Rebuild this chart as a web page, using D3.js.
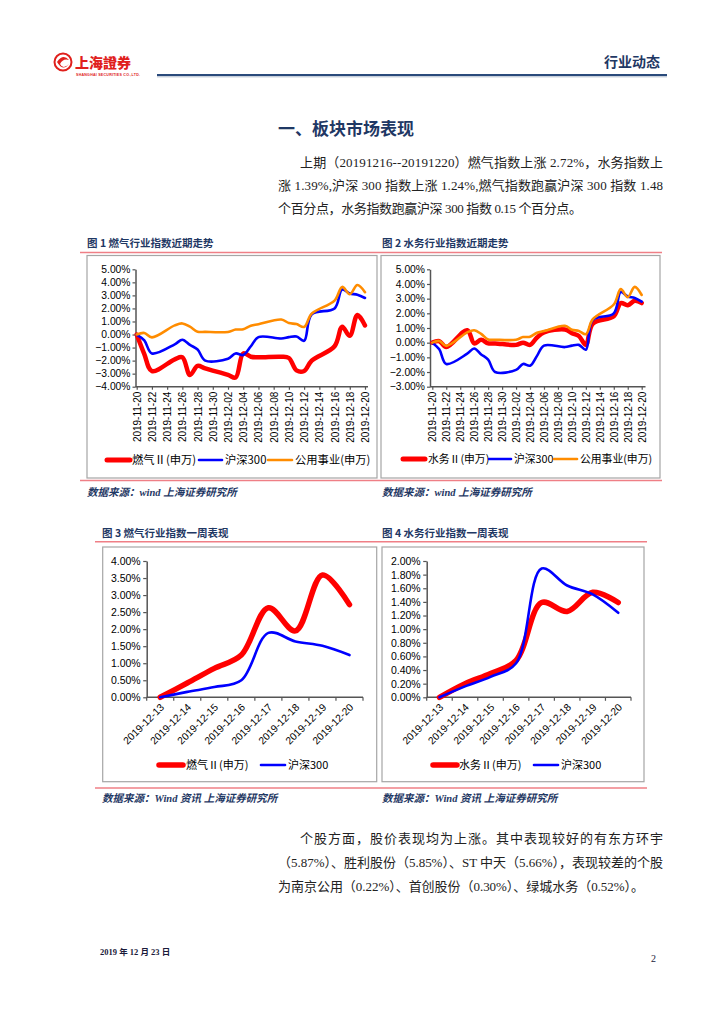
<!DOCTYPE html>
<html><head><meta charset="utf-8">
<script src="https://cdn.jsdelivr.net/npm/d3@7"></script>
<style>body{margin:0;background:#fff}svg{display:block}</style>
</head><body>
<svg id="page" width="724" height="1024"></svg>
<script>
// ---------- DATA ----------
const datesMonth = ["2019-11-20","2019-11-21","2019-11-22","2019-11-25","2019-11-26","2019-11-27","2019-11-28","2019-11-29","2019-12-02","2019-12-03","2019-12-04","2019-12-05","2019-12-06","2019-12-09","2019-12-10","2019-12-11","2019-12-12","2019-12-13","2019-12-16","2019-12-17","2019-12-18","2019-12-19","2019-12-20"];
const gasMonth   = [0,-1.5,-2.8,-1.9,-1.75,-3.1,-2.4,-2.6,-3.1,-3.3,-1.45,-1.7,-1.75,-1.7,-1.8,-2.75,-2.8,-2.0,-0.9,0.6,-0.1,1.5,0.7];
const waterMonth = [0,0.1,-0.3,0.85,-0.05,0.2,-0.05,-0.05,-0.15,0.0,-0.15,0.35,0.7,0.9,0.65,0.45,-0.15,1.3,1.8,2.7,2.55,2.85,2.7];
const hs300Month = [0,-0.45,-1.45,-0.75,-0.4,-0.8,-1.15,-2.0,-1.85,-1.45,-1.57,-0.9,-0.2,-0.3,-0.2,-0.15,-0.48,1.55,2.0,3.45,3.15,3.05,2.8];
const utilMonth  = [0,0.12,-0.22,0.7,0.85,0.6,0.22,0.2,0.2,0.38,0.4,0.68,0.79,1.15,0.88,0.8,0.58,1.6,2.6,3.65,3.1,3.8,3.25];
const ticksMonthY1 = [-4,-3,-2,-1,0,1,2,3,4,5];
const ticksMonthY2 = [-3,-2,-1,0,1,2,3,4,5];

const datesWeek = ["2019-12-13","2019-12-14","2019-12-15","2019-12-16","2019-12-17","2019-12-18","2019-12-19","2019-12-20"];
const gasWeek   = [0,0.42,0.85,1.24,2.63,1.95,3.59,2.72];
const waterWeek = [0,0.2,0.35,0.54,1.39,1.26,1.54,1.39];
const hs300Week = [0,0.16,0.3,0.5,1.89,1.64,1.51,1.24];
const ticksWeekY3 = [0,0.5,1,1.5,2,2.5,3,3.5,4];
const ticksWeekY4 = [0,0.2,0.4,0.6,0.8,1.0,1.2,1.4,1.6,1.8,2.0];

const nameGas = "燃气Ⅱ(申万)", nameWater = "水务Ⅱ(申万)", nameHS = "沪深300", nameUtil = "公用事业(申万)";

// ---------- STYLE ----------
const NAVY = "#1f3864", RED = "#ff0000", BLUE = "#0000ff", ORANGE = "#ff8c00";
const SANS = "'Liberation Sans', Arial, 'Noto Sans CJK SC', sans-serif";
const CJK = "'Noto Sans CJK SC', sans-serif";
const SERIF = "'Liberation Serif', 'Noto Sans CJK SC', serif";
const PINK = "#ef7f86";

const svg = d3.select("#page");
svg.append("rect").attr("width",724).attr("height",1024).attr("fill","#fff");

// ---------- HEADER ----------
const logo = svg.append("g");
logo.append("circle").attr("cx",63).attr("cy",62).attr("r",8.5).attr("fill","none").attr("stroke","#e0201c").attr("stroke-width",2);
logo.append("path").attr("d","M57,62 Q63,53 69,60 Q63,58 60,64 Q63,70 69,64 Q63,72 57,62Z").attr("fill","#e0201c");
logo.append("text").attr("x",75).attr("y",68).attr("font-family","'Noto Sans CJK TC',sans-serif").attr("font-weight",900)
  .attr("font-size",14).attr("fill","#e0201c").text("上海證券");
logo.append("text").attr("x",76).attr("y",75.5).attr("font-family",SANS).attr("font-weight",700)
  .attr("font-size",3.6).attr("fill","#e0201c").attr("textLength",64).text("SHANGHAI SECURITIES CO.,LTD.");
svg.append("text").attr("x",660).attr("y",67).attr("text-anchor","end").attr("font-family",CJK).attr("font-weight",700)
  .attr("font-size",14).attr("fill",NAVY).text("行业动态");
svg.append("line").attr("x1",157).attr("x2",667).attr("y1",75).attr("y2",75).attr("stroke","#2a4a7b").attr("stroke-width",2.2);
svg.append("line").attr("x1",157).attr("x2",667).attr("y1",76.8).attr("y2",76.8).attr("stroke","#9aa9bf").attr("stroke-width",0.8);

// ---------- TITLE & PARAGRAPH ----------
svg.append("text").attr("x",278).attr("y",135).attr("font-family",CJK).attr("font-weight",700)
  .attr("font-size",17).attr("fill",NAVY).text("一、板块市场表现");

function para(lines){
  lines.forEach(l=>{
    const t = svg.append("text").attr("x",l.x).attr("y",l.y).attr("font-family",SERIF)
      .attr("font-size",13).attr("fill","#222").text(l.t);
    if(l.w) t.attr("textLength",l.w).attr("lengthAdjust","spacing");
  });
}
para([
  {x:300,y:167,t:"上期（20191216--20191220）燃气指数上涨 2.72%，水务指数上",w:363},
  {x:278,y:190,t:"涨 1.39%,沪深 300 指数上涨 1.24%,燃气指数跑赢沪深 300 指数 1.48",w:385},
  {x:278,y:213,t:"个百分点，水务指数跑赢沪深 300 指数 0.15 个百分点。",w:304}
]);

// ---------- FRAMES ----------
function figTitle(x,y,t){
  svg.append("text").attr("x",x).attr("y",y).attr("font-family",CJK).attr("font-weight",700)
    .attr("font-size",10.5).attr("fill",NAVY).text(t);
}
function source(x,y,t){
  svg.append("text").attr("x",x).attr("y",y).attr("font-family","'Liberation Serif','Noto Sans CJK SC',serif").attr("font-weight",700)
    .attr("font-style","italic").attr("font-size",10.5).attr("fill",NAVY).text(t);
}
function hline(x1,x2,y,c,w){ svg.append("line").attr("x1",x1).attr("x2",x2).attr("y1",y).attr("y2",y).attr("stroke",c).attr("stroke-width",w); }
function box(x,y,w,h){ svg.append("rect").attr("x",x).attr("y",y).attr("width",w).attr("height",h).attr("fill","none").attr("stroke","#a6a6a6").attr("stroke-width",1.2); }

figTitle(87,247,"图 1 燃气行业指数近期走势");
figTitle(382,247,"图 2 水务行业指数近期走势");
hline(80,377,252.5,PINK,1.5); hline(377,662,252.5,PINK,1.5);
box(87,255.5,290,222.5); box(381,255.5,279,222.5);
hline(80,377,480.5,PINK,1.5); hline(377,662,480.5,PINK,1.5);
source(87,496,"数据来源：wind 上海证券研究所");
source(382,496,"数据来源：wind 上海证券研究所");

figTitle(102,537,"图  3  燃气行业指数一周表现");
figTitle(382,537,"图  4  水务行业指数一周表现");
hline(95,377,541.7,PINK,1.5); hline(377,647,541.7,PINK,1.5);
box(102.7,547,274,234.7); box(382,547,262,234.7);
hline(95,377,788,PINK,1.5); hline(377,647,788,PINK,1.5);
source(102,802,"数据来源：Wind 资讯  上海证券研究所");
source(382,802,"数据来源：Wind 资讯  上海证券研究所");

// ---------- CHART HELPERS ----------
const parse = d3.timeParse("%Y-%m-%d");
const fmtPct = d3.format(".2f");
function styleAxis(g){
  g.selectAll("path.domain").attr("stroke","#555").attr("stroke-width",1.5);
  g.selectAll(".tick line").attr("stroke","#555").attr("stroke-width",1.2);
  g.selectAll("text").attr("fill","#000").attr("font-family",SANS).attr("font-size",10);
}
function legend(items,y,fs){
  items.forEach(it=>{
    svg.append("line").attr("x1",it.lx1).attr("x2",it.lx2).attr("y1",y).attr("y2",y)
      .attr("stroke",it.c).attr("stroke-width",it.w).attr("stroke-linecap","round");
    svg.append("text").attr("x",it.tx).attr("y",y+4).attr("font-family",CJK).attr("font-size",fs).attr("fill","#000").text(it.t);
  });
}

function monthChart(cfg){
  const x = d3.scaleTime().domain([parse("2019-11-20"),parse("2019-12-20")]).range([cfg.x0,cfg.x1]);
  const y = d3.scaleLinear().domain(cfg.dom).range([cfg.yb,cfg.yt]);
  const ticksX = d3.timeDay.range(parse("2019-11-20"), d3.timeDay.offset(parse("2019-12-20"),1), 2);
  const gx = svg.append("g").attr("transform",`translate(0,${cfg.yb})`)
    .call(d3.axisBottom(x).tickValues(ticksX).tickFormat(d3.timeFormat("%Y-%m-%d")).tickSize(3).tickSizeOuter(0));
  gx.select("path.domain").attr("d",`M${cfg.ax},0H${cfg.axr}`);
  styleAxis(gx);
  gx.selectAll("text").attr("transform","rotate(-90)").attr("x",-5).attr("y",0).attr("dy","0.35em").attr("text-anchor","end");
  const gy = svg.append("g").attr("transform",`translate(${cfg.ax},0)`)
    .call(d3.axisLeft(y).tickValues(cfg.ticks).tickFormat(d=>fmtPct(d)+"%").tickSize(3).tickSizeOuter(0));
  styleAxis(gy);
  gy.selectAll("text").attr("x",-5).attr("font-size",10.3);
  const line = d3.line().x(d=>x(d.d)).y(d=>y(d.v)).curve(d3.curveCatmullRom.alpha(0.5));
  cfg.series.forEach(s=>{
    const data = datesMonth.map((d,i)=>({d:parse(d),v:s.v[i]}));
    svg.append("path").datum(data).attr("d",line).attr("fill","none").attr("stroke",s.c)
      .attr("stroke-width",s.w).attr("stroke-linejoin","round").attr("stroke-linecap","round");
  });
}

monthChart({x0:136.7,x1:365,ax:135.5,axr:368,yt:269.3,yb:386.7,dom:[-4,5],ticks:ticksMonthY1,
  series:[{v:gasMonth,c:RED,w:4.5},{v:hs300Month,c:BLUE,w:2.6},{v:utilMonth,c:ORANGE,w:2.6}]});
legend([{lx1:107,lx2:130,c:RED,w:5,tx:132,t:nameGas},{lx1:199,lx2:222,c:BLUE,w:2.6,tx:225,t:nameHS},{lx1:268,lx2:292,c:ORANGE,w:2.6,tx:295,t:nameUtil}],460,11.3);

monthChart({x0:432.3,x1:641.7,ax:430,axr:645.5,yt:269.3,yb:386.7,dom:[-3,5],ticks:ticksMonthY2,
  series:[{v:waterMonth,c:RED,w:4.5},{v:hs300Month,c:BLUE,w:2.6},{v:utilMonth,c:ORANGE,w:2.6}]});
legend([{lx1:403,lx2:425,c:RED,w:5,tx:428,t:nameWater},{lx1:489,lx2:511,c:BLUE,w:2.6,tx:514,t:nameHS},{lx1:554,lx2:577,c:ORANGE,w:2.6,tx:580,t:nameUtil}],459,10.8);

function weekChart(cfg){
  const x = d3.scaleBand().domain(datesWeek).range([cfg.x0,cfg.x1]);
  const y = d3.scaleLinear().domain(cfg.dom).range([cfg.yb,cfg.yt]);
  const gx = svg.append("g").attr("transform",`translate(0,${cfg.yb})`)
    .call(d3.axisBottom(x).tickSize(0).tickSizeOuter(0));
  styleAxis(gx);
  gx.select("path.domain").attr("d",`M${cfg.x0},0H${cfg.x1}`);
  gx.selectAll("text").attr("transform",`translate(2,8) rotate(-45)`).attr("x",0).attr("y",0).attr("dy","0.35em").attr("text-anchor","end").attr("font-size",10.3);
  const bounds = datesWeek.map(d=>x(d)).concat([cfg.x1]);
  gx.selectAll("line.bt").data(bounds).enter().append("line").attr("class","bt")
    .attr("x1",d=>d).attr("x2",d=>d).attr("y1",0).attr("y2",3.5).attr("stroke","#555").attr("stroke-width",1.2);
  const gy = svg.append("g").attr("transform",`translate(${cfg.x0},0)`)
    .call(d3.axisLeft(y).tickValues(cfg.ticks).tickFormat(d=>fmtPct(d)+"%").tickSize(3.5).tickSizeOuter(0));
  styleAxis(gy);
  gy.selectAll("text").attr("x",-6).attr("font-size",10.5);
  const line = d3.line().x(d=>x(d.d)+x.bandwidth()/2).y(d=>y(d.v)).curve(d3.curveCatmullRom.alpha(0.5));
  cfg.series.forEach(s=>{
    const data = datesWeek.map((d,i)=>({d:d,v:s.v[i]}));
    svg.append("path").datum(data).attr("d",line).attr("fill","none").attr("stroke",s.c)
      .attr("stroke-width",s.w).attr("stroke-linejoin","round").attr("stroke-linecap","round");
  });
}
weekChart({x0:146.7,x1:363,yt:561,yb:697.3,dom:[0,4],ticks:ticksWeekY3,
  series:[{v:gasWeek,c:RED,w:5.5},{v:hs300Week,c:BLUE,w:2.6}]});
legend([{lx1:159,lx2:183,c:RED,w:5.5,tx:186,t:nameGas},{lx1:261,lx2:285,c:BLUE,w:2.6,tx:288,t:nameHS}],765,11);

weekChart({x0:426.7,x1:631,yt:561,yb:697.3,dom:[0,2],ticks:ticksWeekY4,
  series:[{v:waterWeek,c:RED,w:5.5},{v:hs300Week,c:BLUE,w:2.6}]});
legend([{lx1:433,lx2:457,c:RED,w:5.5,tx:459,t:nameWater},{lx1:534,lx2:558,c:BLUE,w:2.6,tx:561,t:nameHS}],765,11);

// ---------- BOTTOM TEXT ----------
para([
  {x:300,y:843,t:"个股方面，股价表现均为上涨。其中表现较好的有东方环宇",w:363},
  {x:278,y:867,t:"（5.87%）、胜利股份（5.85%）、ST 中天（5.66%），表现较差的个股",w:385},
  {x:278,y:891,t:"为南京公用（0.22%）、首创股份（0.30%）、绿城水务（0.52%）。",w:366}
]);
svg.append("text").attr("x",100).attr("y",955).attr("font-family",SERIF).attr("font-weight",700)
  .attr("font-size",8.5).attr("fill","#1a1a3a").text("2019 年 12 月 23 日");
svg.append("text").attr("x",651).attr("y",962).attr("font-family",SERIF)
  .attr("font-size",10).attr("fill","#1a1a3a").text("2");
</script>
</body></html>
